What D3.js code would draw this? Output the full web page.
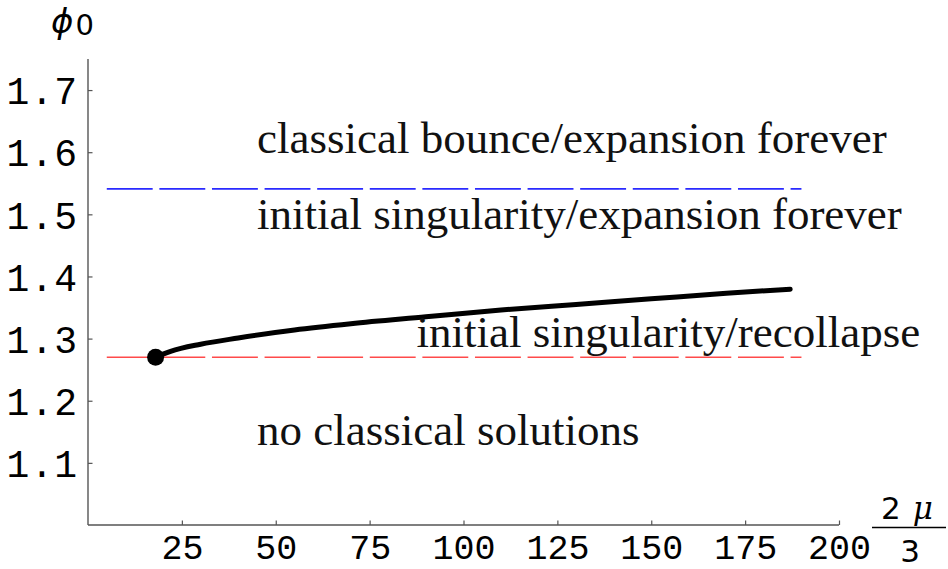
<!DOCTYPE html>
<html lang="en">
<head>
<meta charset="UTF-8">
<title>phi0 vs 2mu/3</title>
<script src="https://d3js.org/d3.v7.min.js"></script>
<style>
    body { margin: 0; background: #fff; }
    .tick text { font-family: "Liberation Mono", "Courier New", monospace; fill: #000; }
</style>
</head>
<body>
<svg id="chart" width="948" height="569"></svg>
<script>
    // curve phi0(2mu/3)
    const curveX = [18, 22, 30, 40, 55, 70, 90, 110, 130, 150, 170, 187];
    const curveY = [1.270, 1.2795, 1.291, 1.301, 1.314, 1.324, 1.335, 1.346, 1.355, 1.364, 1.373, 1.3795];

    // horizontal boundaries
    const blueLevel = 1.541;
    const redLevel = 1.270;
    const lineSpan = [5, 190];

    const xTicks = [25, 50, 75, 100, 125, 150, 175, 200];
    const yTicks = [1.1, 1.2, 1.3, 1.4, 1.5, 1.6, 1.7];

    const labels = [
        {text: "classical bounce/expansion forever", x: 45, y: 1.5985},
        {text: "initial singularity/expansion forever", x: 45, y: 1.476},
        {text: "initial singularity/recollapse", x: 87.5, y: 1.2862},
        {text: "no classical solutions", x: 45, y: 1.1288}
    ];

    const svg = d3.select("#chart");
    const x = d3.scaleLinear().domain([0, 200]).range([88, 839]);
    const y = d3.scaleLinear().domain([1.0, 1.75]).range([525, 59]);

    // axes: ticks drawn inward, labels outside
    const axisColor = "#555";
    const gx = svg.append("g").attr("transform", "translate(0,525)");
    gx.call(d3.axisBottom(x).tickValues(d3.range(5, 200, 5)).tickSize(-2.5).tickFormat(""));
    gx.call(d3.axisBottom(x).tickValues(xTicks).tickSize(-4.5).tickPadding(9).tickFormat(d3.format("d")));
    gx.selectAll(".tick text").attr("font-size", 35);
    gx.selectAll(".domain").remove();

    const gy = svg.append("g").attr("transform", "translate(88,0)");
    gy.call(d3.axisLeft(y).tickValues(d3.range(1.02, 1.75, 0.02)).tickSize(-2.5).tickFormat(""));
    gy.call(d3.axisLeft(y).tickValues(yTicks).tickSize(-4.5).tickPadding(10).tickFormat(d3.format(".1f")));
    gy.selectAll(".tick text").attr("font-size", 38).attr("dy", "0.36em").attr("letter-spacing", 1);
    gy.selectAll(".domain").remove();

    svg.selectAll(".tick line").attr("stroke", axisColor).attr("stroke-width", 1.2);

    svg.append("line").attr("x1", x(0)).attr("x2", x(200)).attr("y1", y(1.0)).attr("y2", y(1.0))
        .attr("stroke", axisColor).attr("stroke-width", 1.4);
    svg.append("line").attr("x1", x(0)).attr("x2", x(0)).attr("y1", y(1.0)).attr("y2", y(1.75))
        .attr("stroke", axisColor).attr("stroke-width", 1.4);

    // dashed boundaries
    svg.append("line").attr("x1", x(lineSpan[0])).attr("x2", x(lineSpan[1]))
        .attr("y1", y(blueLevel)).attr("y2", y(blueLevel))
        .attr("stroke", "#2a2aff").attr("stroke-width", 1.6).attr("stroke-dasharray", "45.9 6.7");
    svg.append("line").attr("x1", x(lineSpan[0])).attr("x2", x(lineSpan[1]))
        .attr("y1", y(redLevel)).attr("y2", y(redLevel))
        .attr("stroke", "#ff4a4a").attr("stroke-width", 1.7).attr("stroke-dasharray", "45.9 6.7");

    // curve and starting point
    const pts = curveX.map((d, i) => [d, curveY[i]]);
    svg.append("path")
        .attr("d", d3.line().x(d => x(d[0])).y(d => y(d[1])).curve(d3.curveMonotoneX)(pts))
        .attr("fill", "none").attr("stroke", "#000").attr("stroke-width", 5).attr("stroke-linecap", "round");
    svg.append("circle").attr("cx", x(curveX[0])).attr("cy", y(curveY[0])).attr("r", 8.5).attr("fill", "#000");

    // region labels
    svg.selectAll("text.region").data(labels).enter().append("text")
        .attr("class", "region")
        .style("font-family", "'Liberation Serif', 'Times New Roman', serif")
        .style("font-size", "45px")
        .attr("fill", "#111")
        .attr("x", d => x(d.x)).attr("y", d => y(d.y))
        .text(d => d.text);

    // axis titles
    const yt = svg.append("text").attr("x", 51).attr("y", 33)
        .attr("font-family", "DejaVu Sans, sans-serif").attr("font-size", 34);
    yt.append("tspan").attr("font-style", "italic").text("ϕ");
    yt.append("tspan").attr("dx", 2).attr("dy", 2).attr("font-size", 29).text("0");

    const xt = svg.append("g").attr("font-family", "DejaVu Sans, sans-serif").attr("font-size", 31);
    const num = xt.append("text").attr("x", 881).attr("y", 519);
    num.append("tspan").text("2");
    num.append("tspan").attr("dx", 12).attr("font-style", "italic").attr("font-family", "DejaVu Serif, serif").text("μ");
    xt.append("line").attr("x1", 872).attr("x2", 946).attr("y1", 527.5).attr("y2", 527.5)
        .attr("stroke", "#000").attr("stroke-width", 1.4);
    xt.append("text").attr("x", 910).attr("y", 562).attr("text-anchor", "middle").text("3");
</script>
</body>
</html>
